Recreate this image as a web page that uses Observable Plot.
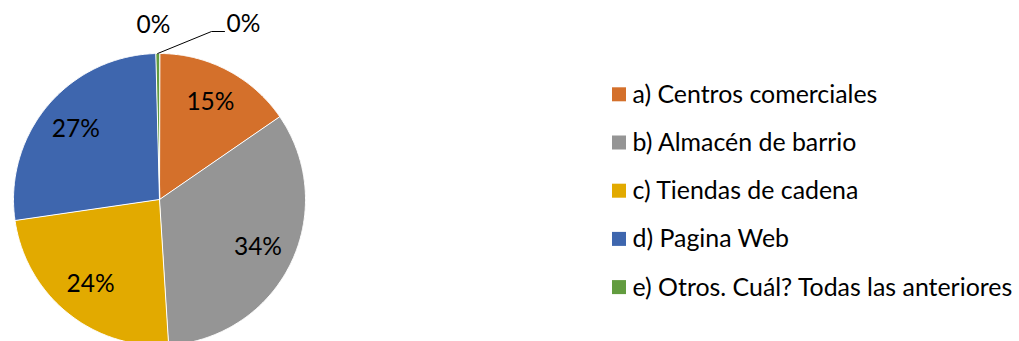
<!DOCTYPE html>
<html><head><meta charset="utf-8">
<script src="https://cdn.jsdelivr.net/npm/d3@7"></script>
<script src="https://cdn.jsdelivr.net/npm/@observablehq/plot@0.6"></script>
<style>body{margin:0;background:#fff}</style>
</head><body><div id="chart"></div>
<script>
// ---- data ----
const categories = ["a) Centros comerciales", "b) Almacén de barrio", "c) Tiendas de cadena", "d) Pagina Web", "e) Otros. Cuál? Todas las anteriores"];
const values = [15.4, 33.6, 23.7, 26.9, 0.4];
const colors = ["#D4702B", "#959595", "#E2AA00", "#3E66AE", "#629C3F"];
const extraZeroLabel = "0%";

// ---- layout ----
const W = 1019, H = 341;
const cx = 159, cy = 199, R = 146;
const font = "Lato, 'Open Sans', sans-serif";
const fs = 24.5, fsLegend = 24.9;

const total = d3.sum(values);
let acc = 0;
const slices = categories.map((c, i) => {
  const a0 = acc / total * 2 * Math.PI; acc += values[i];
  const a1 = acc / total * 2 * Math.PI;
  return {c, i, a0, a1, v: values[i], label: Math.round(values[i] / total * 100) + "%"};
});
const pts = [];
for (const s of slices) {
  pts.push({c: s.c, x: cx, y: cy});
  const n = Math.max(2, Math.ceil((s.a1 - s.a0) / (Math.PI / 360)));
  for (let k = 0; k <= n; k++) {
    const a = s.a0 + (s.a1 - s.a0) * k / n;
    pts.push({c: s.c, x: cx + R * Math.sin(a), y: cy - R * Math.cos(a)});
  }
}
const inside = slices.filter(s => s.v >= 1).map(s => {
  const m = (s.a0 + s.a1) / 2, r = R * 0.75;
  return {label: s.label, x: cx + r * Math.sin(m), y: cy - r * Math.cos(m)};
});
const tiny = slices.filter(s => s.v < 1);
const leaders = [], outside = [];
tiny.forEach((s, j) => {
  const m = (s.a0 + s.a1) / 2;
  const sx = cx + R * Math.sin(m), sy = cy - R * Math.cos(m);
  const ex = cx + 52, ey = cy - R - 22;
  leaders.push({k: j, x: sx, y: sy}, {k: j, x: ex, y: ey}, {k: j, x: ex + 13, y: ey});
  outside.push({label: s.label, x: ex + 15, y: ey - 7, anchor: "start"});
});
outside.push({label: extraZeroLabel, x: cx - 6, y: cy - R - 28, anchor: "middle"});

const legend = categories.map((c, i) => ({c, i, y: 94.3 + i * 48.2}));

const plot = Plot.plot({
  width: W, height: H,
  margin: 0,
  x: {domain: [0, W], range: [0, W], axis: null},
  y: {domain: [0, H], range: [0, H], axis: null},
  color: {domain: categories, range: colors},
  style: {fontFamily: font, background: "#fff"},
  marks: [
    Plot.line(pts, {x: "x", y: "y", z: "c", fill: "c", stroke: "#fff", strokeWidth: 1, curve: "linear-closed"}),
    Plot.text(inside, {x: "x", y: "y", text: "label", fontSize: fs, fill: "#000"}),
    Plot.line(leaders, {x: "x", y: "y", z: "k", stroke: "#000", strokeWidth: 1}),
    Plot.text(outside.filter(d => d.anchor === "start"), {x: "x", y: "y", text: "label", fontSize: fs, fill: "#000", textAnchor: "start"}),
    Plot.text(outside.filter(d => d.anchor === "middle"), {x: "x", y: "y", text: "label", fontSize: fs, fill: "#000"}),
    Plot.rect(legend, {x1: () => 612, x2: () => 626, y1: d => d.y - 7, y2: d => d.y + 7, fill: "c"}),
    Plot.text(legend, {x: () => 632, y: "y", text: "c", fontSize: fsLegend, fill: "#000", textAnchor: "start"})
  ]
});
document.getElementById("chart").appendChild(plot);
</script>
</body></html>
